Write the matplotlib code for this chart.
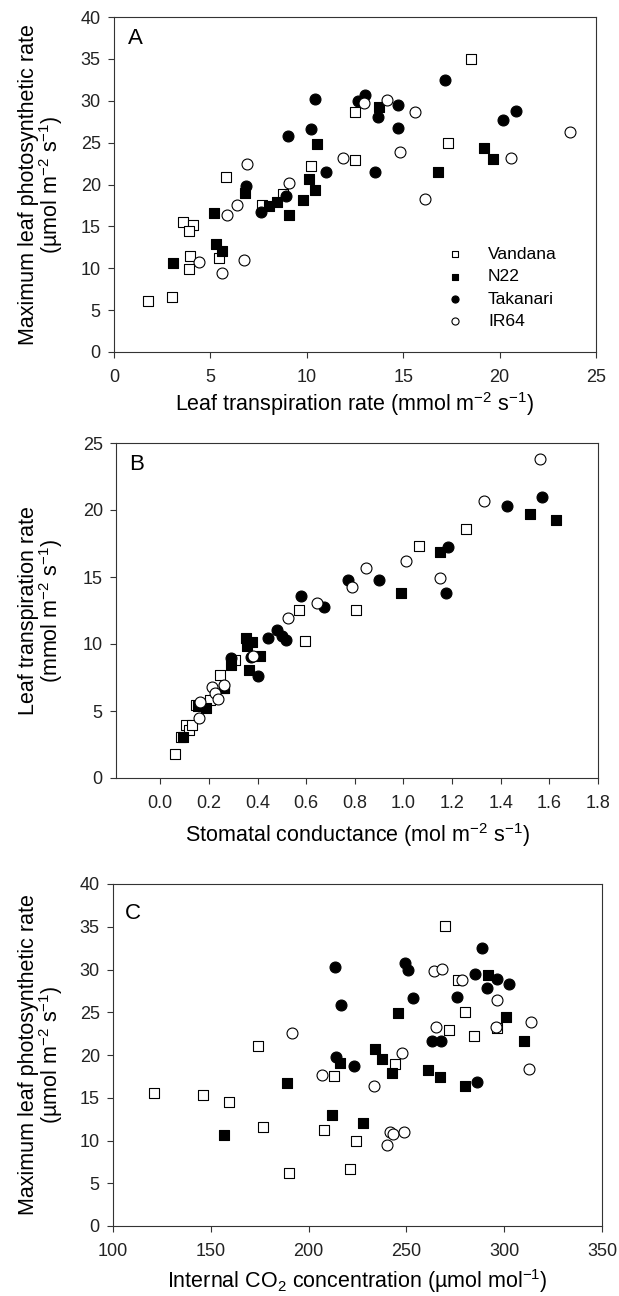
import matplotlib
matplotlib.use("Agg")
import matplotlib.pyplot as plt

plt.rcParams['font.family'] = ['Liberation Sans', 'DejaVu Sans']
plt.rcParams['mathtext.fontset'] = 'custom'
plt.rcParams['mathtext.rm'] = 'Liberation Sans'
plt.rcParams['mathtext.it'] = 'Liberation Sans'

# ---------------- Panel A: transpiration (x) vs Pmax (y) ----------------
a_vand_x = [1.78, 3.0, 3.6, 4.08, 3.9, 3.94, 3.9, 5.43, 5.8, 7.7, 8.75, 10.2, 12.5, 12.5, 17.3, 18.5]
a_vand_y = [6.1, 6.6, 15.5, 15.2, 14.4, 11.5, 9.9, 11.2, 20.9, 17.6, 18.9, 22.2, 28.7, 22.9, 25.0, 35.0]
a_n22_x = [3.04, 5.19, 5.31, 5.6, 6.78, 8.06, 8.44, 9.09, 9.82, 10.13, 10.44, 10.55, 13.73, 16.82, 19.17, 19.67]
a_n22_y = [10.6, 16.65, 12.9, 12.1, 19.0, 17.4, 17.9, 16.3, 18.2, 20.6, 19.4, 24.8, 29.2, 21.55, 24.3, 23.0]
a_tak_x = [6.85, 7.6, 8.92, 9.0, 10.24, 10.4, 11.0, 12.67, 13.02, 13.71, 13.52, 14.73, 14.73, 17.17, 20.2, 20.85]
a_tak_y = [19.8, 16.7, 18.6, 25.8, 26.6, 30.2, 21.55, 30.0, 30.7, 28.1, 21.5, 29.5, 26.7, 32.5, 27.7, 28.8]
a_ir_x = [4.43, 5.62, 5.86, 6.36, 6.74, 6.9, 9.06, 11.9, 12.97, 14.16, 14.83, 15.6, 16.15, 20.6, 23.65]
a_ir_y = [10.75, 9.4, 16.3, 17.6, 10.96, 22.5, 20.2, 23.2, 29.7, 30.1, 23.9, 28.7, 18.3, 23.2, 26.3]

# ---------------- Panel B: stomatal conductance (x) vs transpiration (y) ----------------
b_vand_x = [0.06, 0.084, 0.105, 0.119, 0.13, 0.147, 0.204, 0.262, 0.245, 0.307, 0.57, 0.597, 0.803, 1.066, 1.259]
b_vand_y = [1.79, 3.03, 3.93, 3.56, 3.98, 5.42, 5.85, 6.7, 7.69, 8.78, 12.54, 10.25, 12.56, 17.34, 18.56]
b_n22_x = [0.095, 0.156, 0.188, 0.262, 0.289, 0.351, 0.355, 0.379, 0.364, 0.41, 0.989, 1.149, 1.519, 1.626]
b_n22_y = [3.03, 5.35, 5.2, 6.7, 8.46, 10.45, 9.83, 10.17, 8.08, 9.08, 13.78, 16.84, 19.73, 19.28]
b_tak_x = [0.289, 0.373, 0.403, 0.442, 0.481, 0.499, 0.516, 0.578, 0.673, 0.773, 0.899, 1.175, 1.185, 1.426, 1.568]
b_tak_y = [8.98, 9.03, 7.64, 10.45, 11.02, 10.62, 10.27, 13.6, 12.76, 14.8, 14.8, 13.8, 17.24, 20.27, 20.97]
b_ir_x = [0.16, 0.163, 0.211, 0.226, 0.238, 0.262, 0.382, 0.526, 0.645, 0.788, 0.844, 1.011, 1.149, 1.33, 1.563]
b_ir_y = [4.48, 5.65, 6.79, 6.34, 5.9, 6.92, 9.08, 11.94, 13.06, 14.25, 15.67, 16.22, 14.9, 20.67, 23.78]

# ---------------- Panel C: internal CO2 (x) vs Pmax (y) ----------------
c_vand_x = [120.8, 146, 159.1, 174.1, 176.9, 190.2, 207.7, 213.0, 221.3, 224.4, 244.2, 269.7, 271.6, 276.6, 279.8, 284.6, 296.5]
c_vand_y = [15.6, 15.3, 14.5, 21.0, 11.6, 6.25, 11.2, 17.6, 6.67, 9.95, 19.0, 35.05, 22.9, 28.8, 25.06, 22.2, 23.1]
c_n22_x = [156.7, 189.0, 212.0, 215.9, 227.8, 233.9, 237.5, 242.5, 245.5, 261.2, 267.0, 280.0, 291.7, 301.1, 310.3]
c_n22_y = [10.6, 16.7, 13.0, 19.1, 12.1, 20.7, 19.5, 17.95, 24.9, 18.3, 17.4, 16.4, 29.3, 24.4, 21.6]
c_tak_x = [213.5, 216.4, 214.0, 223.2, 249.1, 250.8, 253.4, 263.3, 267.9, 275.9, 285.1, 288.8, 291.4, 296.1, 302.5, 286.1]
c_tak_y = [30.25, 25.8, 19.8, 18.7, 30.76, 30.0, 26.7, 21.6, 21.6, 26.8, 29.5, 32.55, 27.8, 28.9, 28.3, 16.8]
c_ir_x = [191.5, 207.0, 233.3, 240.3, 241.6, 243.1, 248.6, 247.8, 264.3, 268.2, 265.3, 278.3, 295.6, 296.5, 312.5, 313.7]
c_ir_y = [22.6, 17.7, 16.4, 9.45, 11.0, 10.8, 11.0, 20.2, 29.8, 30.1, 23.3, 28.8, 23.3, 26.4, 18.35, 23.9]

labels = ['Vandana', 'N22', 'Takanari', 'IR64']

TICK_FS = 13
LAB_FS = 15.5

fig = plt.figure(figsize=(6.19, 12.96), dpi=100)
axA = fig.add_axes([114/619, 1-352/1296, 482/619, 335/1296])
axB = fig.add_axes([116/619, 1-778/1296, 482/619, 335/1296])
axC = fig.add_axes([113/619, 1-1226/1296, 489/619, 342/1296])


def draw(ax, series):
    styles = [dict(marker='s', facecolor='white', s=52),
              dict(marker='s', facecolor='black', s=52),
              dict(marker='o', facecolor='black', s=62),
              dict(marker='o', facecolor='white', s=62)]
    for (x, y), st, lab in zip(series, styles, labels):
        ax.scatter(x, y, marker=st['marker'], s=st['s'], facecolors=st['facecolor'],
                   edgecolors='black', linewidths=0.8, label=lab, zorder=3)
    for sp in ax.spines.values():
        sp.set_linewidth(0.8)
        sp.set_color('#333333')
    ax.tick_params(direction='out', length=4, width=0.8, labelsize=TICK_FS,
                   colors='#333333', labelcolor='#222222', top=False, right=False)
    ax.tick_params(axis='x', pad=8.5)
    ax.tick_params(axis='y', pad=5.5)


YLAB_A = 'Maximum leaf photosynthetic rate\n(\u00b5mol m$^{-2}$ s$^{-1}$)'

draw(axA, [(a_vand_x, a_vand_y), (a_n22_x, a_n22_y), (a_tak_x, a_tak_y), (a_ir_x, a_ir_y)])
axA.set_xlim(0, 25)
axA.set_ylim(0, 40)
axA.set_xticks([0, 5, 10, 15, 20, 25])
axA.set_yticks(range(0, 41, 5))
axA.set_xlabel('Leaf transpiration rate (mmol m$^{-2}$ s$^{-1}$)', fontsize=LAB_FS, labelpad=3)
axA.set_ylabel(YLAB_A, fontsize=LAB_FS, linespacing=0.9)
axA.yaxis.set_label_coords((65-114)/482, 0.5)
axA.text(0.028, 0.935, 'A', transform=axA.transAxes, fontsize=16, va='center', ha='left')
axA.legend(loc='upper left', bbox_to_anchor=(0.689, 0.315), frameon=False, fontsize=12.6,
           handlelength=1.0, handletextpad=1.39, labelspacing=0.41, borderpad=0,
           borderaxespad=0, markerscale=0.65)

draw(axB, [(b_vand_x, b_vand_y), (b_n22_x, b_n22_y), (b_tak_x, b_tak_y), (b_ir_x, b_ir_y)])
axB.set_xlim(-0.182, 1.8)
axB.set_ylim(0, 25)
axB.set_xticks([0.0, 0.2, 0.4, 0.6, 0.8, 1.0, 1.2, 1.4, 1.6, 1.8])
axB.set_xticklabels(['0.0', '0.2', '0.4', '0.6', '0.8', '1.0', '1.2', '1.4', '1.6', '1.8'])
axB.set_yticks(range(0, 26, 5))
axB.set_xlabel('Stomatal conductance (mol m$^{-2}$ s$^{-1}$)', fontsize=LAB_FS, labelpad=6)
axB.set_ylabel('Leaf transpiration rate\n(mmol m$^{-2}$ s$^{-1}$)', fontsize=LAB_FS, linespacing=0.9)
axB.yaxis.set_label_coords((65-116)/482, 0.5)
axB.text(0.028, 0.935, 'B', transform=axB.transAxes, fontsize=16, va='center', ha='left')

draw(axC, [(c_vand_x, c_vand_y), (c_n22_x, c_n22_y), (c_tak_x, c_tak_y), (c_ir_x, c_ir_y)])
axC.set_xlim(100, 350)
axC.set_ylim(0, 40)
axC.set_xticks([100, 150, 200, 250, 300, 350])
axC.set_yticks(range(0, 41, 5))
axC.set_xlabel('Internal CO$_2$ concentration (\u00b5mol mol$^{-1}$)', fontsize=LAB_FS, labelpad=5)
axC.set_ylabel(YLAB_A, fontsize=LAB_FS, linespacing=0.9)
axC.yaxis.set_label_coords((65-113)/489, 0.5)
axC.text(0.025, 0.915, 'C', transform=axC.transAxes, fontsize=16, va='center', ha='left')

fig.savefig('out.png', dpi=100)
